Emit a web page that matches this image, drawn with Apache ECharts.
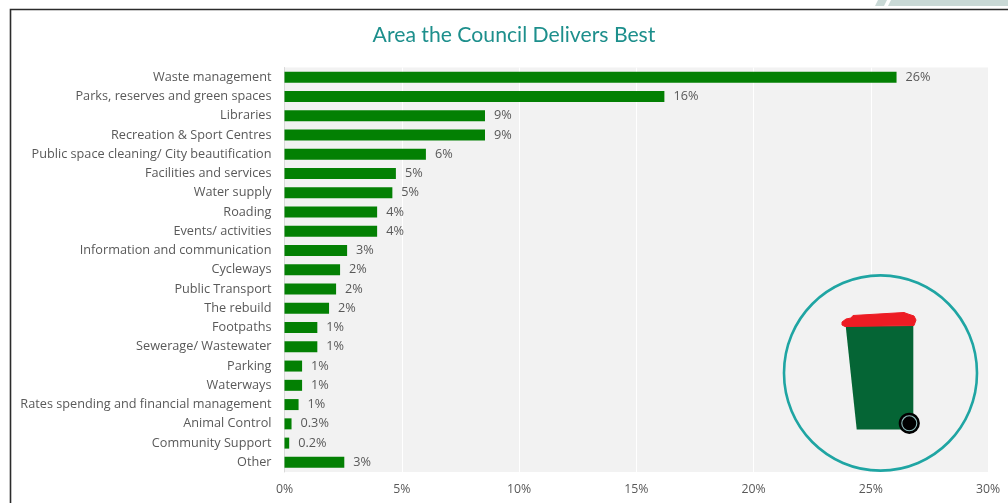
<!DOCTYPE html>
<html>
<head>
<meta charset="utf-8">
<style>html,body{margin:0;padding:0;background:#fff}#chart{width:1008px;height:503px}</style>
<script src="https://cdn.jsdelivr.net/npm/echarts@6/dist/echarts.min.js"></script>
</head>
<body>
<div id="chart"></div>
<script>
const chartTitle = 'Area the Council Delivers Best';
const categories = [
  'Waste management', 'Parks, reserves and green spaces', 'Libraries',
  'Recreation & Sport Centres', 'Public space cleaning/ City beautification',
  'Facilities and services', 'Water supply', 'Roading', 'Events/ activities',
  'Information and communication', 'Cycleways', 'Public Transport', 'The rebuild',
  'Footpaths', 'Sewerage/ Wastewater', 'Parking', 'Waterways',
  'Rates spending and financial management', 'Animal Control', 'Community Support', 'Other'
];
const shares = [26.1, 16.2, 8.55, 8.55, 6.03, 4.75, 4.6, 3.95, 3.95, 2.67, 2.37, 2.2, 1.9, 1.4, 1.4, 0.75, 0.75, 0.6, 0.3, 0.2, 2.55];
const axisMax = 30;
const axisStep = 5;

const FONT = '"Open Sans", sans-serif';
const TEAL = '#1fa5a3';
const BIN_GREEN = '#056535';

// Shares under half a percent keep one decimal, the rest are whole percents.
const shareLabel = v => (v < 0.5 ? v.toFixed(1) : Math.round(v)) + '%';

const chart = echarts.init(document.getElementById('chart'), null, { renderer: 'canvas' });
chart.setOption({
  animation: false,
  backgroundColor: '#ffffff',
  title: {
    text: chartTitle,
    left: 509,
    top: 20,
    textAlign: 'center',
    textStyle: { fontFamily: 'Lato, sans-serif', fontSize: 21.2, fontWeight: 'normal', color: '#1d8f8c' }
  },
  grid: {
    left: 284.5, right: 20, top: 67.5, bottom: 31,
    show: true, backgroundColor: '#f2f2f2', borderWidth: 0
  },
  xAxis: {
    type: 'value',
    min: 0, max: axisMax, interval: axisStep,
    axisLine: { show: false },
    axisTick: { show: false },
    axisLabel: {
      formatter: '{value}%', margin: 11.5,
      fontFamily: FONT, fontSize: 12.3, color: '#595959'
    },
    splitLine: { show: true, lineStyle: { color: '#ffffff', width: 1 } }
  },
  yAxis: {
    type: 'category',
    data: categories,
    inverse: true,
    axisLine: { show: true, lineStyle: { color: '#d9d9d9', width: 1 } },
    axisTick: { show: false },
    axisLabel: { margin: 13, fontFamily: FONT, fontSize: 12.7, color: '#595959' }
  },
  series: [{
    type: 'bar',
    data: shares,
    barWidth: 11,
    itemStyle: { color: '#038003' },
    label: {
      show: true, position: 'right', distance: 9,
      formatter: p => shareLabel(p.value),
      fontFamily: FONT, fontSize: 12.7, color: '#595959'
    }
  }],
  graphic: [
    // Page frame and the banner strip above it
    { type: 'polygon', z: 50, shape: { points: [[878, 0], [887, 0], [884, 6], [875, 6]] }, style: { fill: '#c9d9d6' } },
    { type: 'polygon', z: 50, shape: { points: [[891, 0], [1008, 0], [1008, 6], [888, 6]] }, style: { fill: '#c9d9d6' } },
    { type: 'polyline', z: 50, shape: { points: [[10.5, 503], [10.5, 9.5], [1008, 9.5]] }, style: { fill: 'none', stroke: '#2b2b2b', lineWidth: 1.6 } },
    // Wheelie bin badge
    { type: 'ellipse', z: 50, shape: { cx: 880.5, cy: 373, rx: 96.5, ry: 97.6 }, style: { fill: '#f2f2f2', stroke: TEAL, lineWidth: 2.6 } },
    { type: 'polygon', z: 51, shape: { points: [[845.7, 326], [913.3, 326], [913.3, 429.5], [856.7, 429.5]] }, style: { fill: BIN_GREEN } },
    { type: 'polygon', z: 52, shape: { points: [[842, 322], [846, 319], [851, 318], [853, 315.5], [904, 312.5], [908, 314], [914, 316], [916, 320], [914, 325.5], [845, 326.5], [842, 325]] }, style: { fill: '#ed1c24', stroke: '#ed1c24', lineWidth: 1, lineJoin: 'round' } },
    { type: 'circle', z: 53, shape: { cx: 909.3, cy: 423.3, r: 10.6 }, style: { fill: '#000000' } },
    { type: 'circle', z: 54, shape: { cx: 909.3, cy: 423.3, r: 7.5 }, style: { fill: 'none', stroke: '#8fbcbc', lineWidth: 1.1 } }
  ]
});
</script>
</body>
</html>
